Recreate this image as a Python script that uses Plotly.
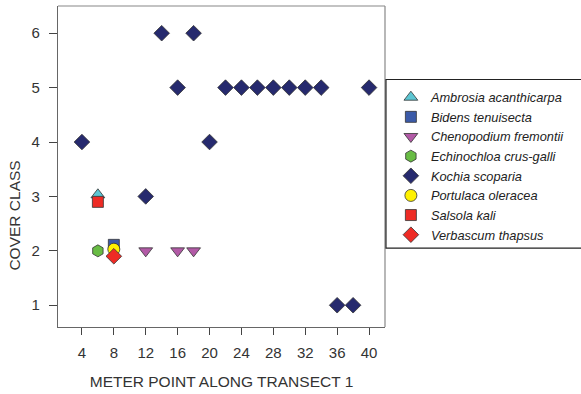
import plotly.graph_objects as go

# ---- data ----
species = ["Ambrosia acanthicarpa", "Bidens tenuisecta", "Chenopodium fremontii",
           "Echinochloa crus-galli", "Kochia scoparia", "Portulaca oleracea",
           "Salsola kali", "Verbascum thapsus"]

ambrosia_x = [6]
ambrosia_y = [3.03]
bidens_x = [8]
bidens_y = [2.11]
chenopodium_x = [12, 16, 18]
chenopodium_y = [2, 2, 2]
echinochloa_x = [6]
echinochloa_y = [2]
kochia_x = [4, 12, 14, 16, 18, 20, 22, 24, 26, 28, 30, 32, 34, 36, 38, 40]
kochia_y = [4, 3, 6, 5, 6, 4, 5, 5, 5, 5, 5, 5, 5, 1, 1, 5]
portulaca_x = [8]
portulaca_y = [2.03]
salsola_x = [6]
salsola_y = [2.9]
verbascum_x = [8]
verbascum_y = [1.9]

x_ticks = [4, 8, 12, 16, 20, 24, 28, 32, 36, 40]
y_ticks = [1, 2, 3, 4, 5, 6]

series = [
    (species[0], ambrosia_x, ambrosia_y, "triangle-up", "#5CC6D3", 12),
    (species[1], bidens_x, bidens_y, "square", "#3B5AA8", 11),
    (species[2], chenopodium_x, chenopodium_y, "triangle-down", "#B25AA6", 12),
    (species[3], echinochloa_x, echinochloa_y, "hexagon", "#68BC44", 12),
    (species[4], kochia_x, kochia_y, "diamond", "#262A6E", 12),
    (species[5], portulaca_x, portulaca_y, "circle", "#FFF100", 12),
    (species[6], salsola_x, salsola_y, "square", "#EE2B25", 11),
    (species[7], verbascum_x, verbascum_y, "diamond", "#EE2B25", 12),
]

fig = go.Figure()
for name, xs, ys, sym, col, sz in series:
    fig.add_trace(go.Scatter(
        x=xs, y=ys, mode="markers", name=name,
        marker=dict(symbol=sym, color=col, size=sz,
                    line=dict(color="#333333", width=0.8)),
    ))

font_family = "Liberation Sans, Arial, sans-serif"

fig.update_layout(
    width=581, height=394,
    margin=dict(l=58, r=196, t=6, b=67, autoexpand=False),
    paper_bgcolor="white", plot_bgcolor="white",
    font=dict(family=font_family, color="#333333", size=14),
    showlegend=True,
    legend=dict(
        x=1.018, y=0.762, xanchor="left", yanchor="top",
        borderwidth=0,
        font=dict(family=font_family, size=12.8, color="#222222", style="italic"),
        bgcolor="rgba(0,0,0,0)",
        tracegroupgap=0,
    ),
    xaxis=dict(
        range=[1, 42], tickvals=x_ticks, ticktext=[str(v) for v in x_ticks],
        showgrid=False, zeroline=False,
        showline=True, linecolor="#666666", linewidth=1.2,
        ticks="outside", ticklen=7, tickcolor="#444444", tickwidth=1,
        ticklabelstandoff=5,
        tickfont=dict(size=15, color="#333333"),
        title=dict(text="METER POINT ALONG TRANSECT 1",
                   font=dict(size=15.5, color="#333333"), standoff=16),
    ),
    yaxis=dict(
        range=[0.6, 6.5], tickvals=y_ticks, ticktext=[str(v) for v in y_ticks],
        showgrid=False, zeroline=False,
        showline=True, linecolor="#666666", linewidth=1.2,
        ticks="outside", ticklen=8, tickcolor="#444444", tickwidth=1,
        ticklabelstandoff=6,
        tickfont=dict(size=15, color="#333333"),
    ),
    annotations=[
        dict(text="COVER CLASS", xref="paper", yref="paper",
             x=0, y=0.347, xanchor="center", yanchor="middle",
             xshift=-43, textangle=-90, showarrow=False,
             font=dict(size=15.5, color="#333333")),
    ],
    shapes=[
        dict(type="line", xref="paper", yref="paper", x0=0, x1=1, y0=1, y1=1,
             line=dict(color="#888888", width=1.2)),
        dict(type="line", xref="paper", yref="paper", x0=1, x1=1, y0=0, y1=1,
             line=dict(color="#888888", width=1.2)),
        dict(type="rect", xref="paper", yref="paper",
             x0=1.003, x1=1.8, y0=0.246, y1=0.771,
             line=dict(color="#222222", width=1.2), fillcolor="rgba(0,0,0,0)"),
    ],
)

fig.write_html("out.html", config={"displayModeBar": False},
               post_script="document.body.style.margin='0';document.body.style.padding='0';")
